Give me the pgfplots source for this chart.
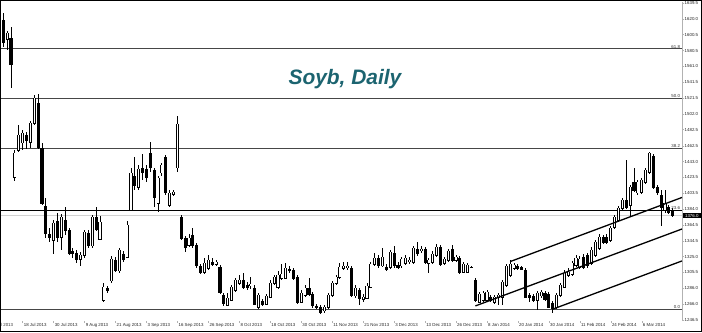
\documentclass[border=0pt]{standalone}
\usepackage{fontspec}
\setmainfont{Liberation Sans}
\usepackage{pgfplots}
\pgfplotsset{compat=1.18}
\usepackage{pgfplotstable}
\definecolor{titlecol}{RGB}{28,100,112}
\definecolor{fibcol}{RGB}{70,70,70}

\pgfplotstableread{
k o h l c
0 1618.5 1627.2 1585.0 1591.2
1 1594.9 1604.9 1581.3 1602.4
2 1596.2 1609.8 1534.2 1563.9
3 1423.8 1457.3 1418.9 1453.6
4 1457.3 1488.3 1454.8 1475.9
5 1466.0 1482.1 1457.3 1478.4
6 1475.9 1479.6 1458.5 1469.7
7 1467.2 1493.3 1459.8 1490.8
8 1490.8 1525.5 1488.3 1521.8
9 1515.6 1526.7 1458.5 1461.0
10 1459.8 1466.0 1389.1 1391.6
11 1387.9 1397.8 1348.2 1354.4
12 1353.1 1360.6 1343.2 1349.4
13 1345.7 1370.5 1328.3 1366.8
14 1369.3 1379.2 1343.2 1349.4
15 1349.4 1377.9 1333.3 1374.2
16 1370.5 1386.6 1351.9 1358.1
17 1358.1 1360.6 1327.1 1329.6
18 1332.1 1335.8 1323.4 1329.6
19 1329.6 1333.3 1317.2 1322.1
20 1322.1 1330.8 1313.5 1327.1
21 1327.1 1358.1 1323.4 1355.6
22 1354.4 1358.1 1335.8 1339.5
23 1338.3 1376.7 1335.8 1374.2
24 1374.2 1386.6 1356.9 1359.3
25 1346.9 1375.5 1345.7 1368.0
26 1271.3 1292.4 1268.8 1287.4
27 1286.2 1288.7 1280.0 1282.5
28 1294.9 1325.9 1292.4 1322.1
29 1320.9 1324.6 1306.0 1308.5
30 1307.3 1335.8 1304.8 1333.3
31 1328.3 1332.1 1318.4 1322.1
32 1324.6 1369.3 1323.4 1364.3
33 1382.9 1435.0 1381.7 1428.8
34 1425.1 1448.6 1407.7 1413.9
35 1411.4 1438.7 1407.7 1433.7
36 1435.0 1452.3 1420.1 1428.8
37 1433.7 1438.7 1417.6 1423.8
38 1453.6 1467.2 1430.0 1436.2
39 1432.5 1435.0 1386.6 1399.0
40 1391.6 1425.1 1380.4 1422.6
41 1428.8 1441.2 1425.1 1438.7
42 1448.6 1451.1 1401.5 1404.0
43 1389.1 1407.7 1386.6 1404.0
44 1402.7 1407.7 1400.3 1405.2
45 1435.0 1499.5 1430.0 1489.5
46 1374.2 1376.7 1345.7 1348.2
47 1348.2 1350.7 1330.8 1337.0
48 1339.5 1353.1 1337.0 1348.2
49 1351.9 1360.6 1335.8 1338.3
50 1339.5 1342.0 1311.0 1313.5
51 1313.5 1315.9 1303.5 1306.0
52 1306.0 1323.4 1303.5 1317.2
53 1311.0 1327.1 1308.5 1320.9
54 1318.4 1323.4 1313.5 1315.9
55 1315.9 1320.9 1313.5 1318.4
56 1312.2 1314.7 1278.7 1281.2
57 1277.5 1280.0 1263.9 1267.6
58 1265.1 1280.0 1263.9 1273.8
59 1271.3 1289.9 1270.1 1287.4
60 1283.7 1298.6 1281.2 1296.1
61 1292.4 1302.3 1289.9 1296.1
62 1296.1 1304.8 1284.9 1287.4
63 1289.9 1293.6 1283.7 1287.4
64 1288.7 1299.8 1284.9 1291.1
65 1286.2 1289.9 1265.1 1266.3
66 1262.6 1280.0 1260.1 1277.5
67 1270.1 1272.5 1263.9 1266.3
68 1266.3 1278.7 1265.1 1276.3
69 1275.0 1296.1 1273.8 1292.4
70 1292.4 1302.3 1289.9 1299.8
71 1287.4 1307.3 1284.9 1302.3
72 1298.6 1315.9 1296.1 1303.5
73 1298.6 1317.2 1297.3 1311.0
74 1309.7 1313.5 1304.8 1307.3
75 1308.5 1311.0 1296.1 1298.6
76 1299.8 1302.3 1266.3 1268.8
77 1268.8 1283.7 1267.6 1280.0
78 1277.5 1289.9 1275.0 1286.2
79 1286.2 1298.6 1276.3 1278.7
80 1278.7 1281.2 1261.4 1263.9
81 1263.9 1266.3 1260.1 1262.6
82 1262.6 1265.1 1253.9 1256.4
83 1257.7 1265.1 1255.2 1262.6
84 1262.6 1280.0 1260.1 1277.5
85 1277.5 1294.9 1275.0 1292.4
86 1292.4 1302.3 1289.9 1299.8
87 1299.8 1317.2 1297.3 1312.2
88 1311.0 1318.4 1308.5 1313.5
89 1312.2 1318.4 1308.5 1313.5
90 1311.0 1313.5 1275.0 1277.5
91 1276.3 1289.9 1273.8 1286.2
92 1283.7 1286.2 1265.1 1273.8
93 1272.5 1278.7 1268.8 1275.0
94 1273.8 1292.4 1272.5 1288.7
95 1287.4 1318.4 1286.2 1315.9
96 1315.9 1329.6 1313.5 1323.4
97 1323.4 1327.1 1311.0 1313.5
98 1313.5 1335.8 1312.2 1324.6
99 1312.2 1315.9 1307.3 1309.7
100 1312.2 1333.3 1309.7 1330.8
101 1329.6 1338.3 1311.0 1313.5
102 1314.7 1318.4 1309.7 1312.2
103 1313.5 1324.6 1311.0 1322.1
104 1317.2 1327.1 1314.7 1323.4
105 1319.7 1324.6 1315.9 1320.9
106 1318.4 1338.3 1315.9 1335.8
107 1334.5 1343.2 1325.9 1329.6
108 1333.3 1338.3 1329.6 1334.5
109 1334.5 1337.0 1315.9 1318.4
110 1317.2 1323.4 1304.8 1320.9
111 1318.4 1332.1 1315.9 1328.3
112 1327.1 1340.7 1324.6 1337.0
113 1337.0 1339.5 1313.5 1315.9
114 1317.2 1324.6 1314.7 1322.1
115 1320.9 1334.5 1318.4 1332.1
116 1334.5 1339.5 1318.4 1320.9
117 1320.9 1327.1 1318.4 1324.6
118 1323.4 1325.9 1303.5 1306.0
119 1306.0 1318.4 1304.8 1315.9
120 1306.0 1317.2 1304.8 1314.7
121 1312.2 1313.5 1311.0 1311.6
122 1296.1 1298.6 1268.8 1270.1
123 1268.8 1281.2 1267.6 1278.7
124 1271.3 1282.5 1268.8 1280.0
125 1271.3 1283.7 1270.1 1281.2
126 1275.0 1277.5 1268.8 1271.3
127 1268.8 1277.5 1266.3 1275.0
128 1275.0 1280.0 1265.1 1277.5
129 1275.0 1296.1 1265.1 1293.6
130 1289.9 1315.9 1287.4 1313.5
131 1302.3 1320.9 1299.8 1315.9
132 1311.0 1317.2 1308.5 1314.7
133 1313.5 1315.9 1308.5 1311.0
134 1311.6 1313.5 1308.5 1309.7
135 1308.5 1311.0 1273.8 1275.0
136 1277.5 1280.0 1268.8 1275.0
137 1276.3 1278.7 1268.8 1271.3
138 1271.3 1282.5 1258.9 1280.0
139 1276.3 1283.7 1273.8 1281.2
140 1280.0 1282.5 1270.1 1272.5
141 1278.7 1281.2 1261.4 1262.6
142 1267.6 1270.1 1255.2 1261.4
143 1262.6 1280.0 1260.1 1277.5
144 1277.5 1292.4 1275.0 1289.9
145 1287.4 1308.5 1286.2 1304.8
146 1302.3 1311.0 1299.8 1306.0
147 1303.5 1319.7 1301.1 1317.2
148 1314.7 1327.1 1312.2 1323.4
149 1312.2 1325.9 1309.7 1322.1
150 1324.6 1328.3 1309.7 1312.2
151 1327.1 1329.6 1311.0 1313.5
152 1317.2 1337.0 1314.7 1333.3
153 1327.1 1345.7 1324.6 1343.2
154 1335.8 1353.1 1333.3 1349.4
155 1349.4 1351.9 1340.7 1343.2
156 1349.4 1353.1 1340.7 1343.2
157 1345.7 1363.1 1343.2 1360.6
158 1361.8 1376.7 1359.3 1374.2
159 1370.5 1387.9 1368.0 1385.4
160 1385.4 1397.8 1382.9 1395.3
161 1395.3 1444.9 1384.1 1386.6
162 1389.1 1413.9 1374.2 1411.4
163 1417.6 1435.0 1405.2 1407.7
164 1404.0 1420.1 1401.5 1417.6
165 1405.2 1422.6 1402.7 1420.1
166 1417.6 1435.0 1415.1 1432.5
167 1430.0 1454.8 1427.5 1453.6
168 1449.9 1452.3 1408.9 1411.4
169 1411.4 1413.9 1401.5 1404.0
170 1401.5 1407.7 1363.1 1386.6
171 1382.9 1407.7 1379.2 1391.6
172 1386.6 1389.1 1377.9 1380.4
173 1382.9 1385.4 1374.2 1376.0
}\candles

\begin{document}
\begin{tikzpicture}[x=1bp,y=1bp]
\path[use as bounding box] (0,-11) rectangle (702,321);
\begin{axis}[
  at={(0,0)}, anchor=south west,
  width=682bp, height=319bp, scale only axis,
  xmin=-0.85, xmax=175.4, ymin=1245.3, ymax=1640.85,
  clip mode=individual,
  axis x line*=bottom, axis y line*=right,
  x axis line style={draw=none},
  y axis line style={draw=gray!60, line width=0.8bp},
  tick align=outside, major tick length=2bp,
  tick style={gray!60, line width=0.5bp},
  xtick={5,13,21,29,37,45,53,61,69,77,85,93,101,109,117,125,133,141,149,157,165},
  xticklabels={18 Jul 2013,30 Jul 2013,9 Aug 2013,21 Aug 2013,3 Sep 2013,16 Sep 2013,26 Sep 2013,8 Oct 2013,18 Oct 2013,30 Oct 2013,11 Nov 2013,21 Nov 2013,3 Dec 2013,13 Dec 2013,26 Dec 2013,8 Jan 2014,20 Jan 2014,30 Jan 2014,11 Feb 2014,24 Feb 2014,6 Mar 2014},
  xticklabel style={anchor=north west, inner sep=0.5bp, xshift=0.5bp, font=\fontsize{4.4}{5}\selectfont, text=black!85},
  ytick={1246.5,1266.0,1286.0,1305.5,1325.0,1344.5,1364.5,1384.0,1403.5,1423.5,1443.0,1462.5,1482.5,1502.0,1521.5,1541.5,1561.0,1580.5,1600.5,1620.0,1639.5},
  yticklabels={1246.5,1266.0,1286.0,1305.5,1325.0,1344.5,1364.5,1384.0,1403.5,1423.5,1443.0,1462.5,1482.5,1502.0,1521.5,1541.5,1561.0,1580.5,1600.5,1620.0,1639.5},
  yticklabel style={anchor=west, inner sep=0.5bp, font=\fontsize{4.4}{5}\selectfont, text=black!85},
]
% Fibonacci levels
\addplot[fibcol, line width=1bp, forget plot] coordinates {(-0.85,1582.6) (175.4,1582.6)};
\addplot[fibcol, line width=1bp, forget plot] coordinates {(-0.85,1520.9) (175.4,1520.9)};
\addplot[fibcol, line width=1bp, forget plot] coordinates {(-0.85,1458.8) (175.4,1458.8)};
\addplot[black, line width=1bp, forget plot] coordinates {(-0.85,1382.9) (175.4,1382.9)};
\addplot[fibcol, line width=1bp, forget plot] coordinates {(-0.85,1259.5) (175.4,1259.5)};
% current price line
\addplot[gray!35, line width=0.8bp, forget plot] coordinates {(-0.85,1376.0) (175.4,1376.0)};
% wicks
\addplot[draw=none, mark=none, forget plot,
  error bars/.cd, y dir=both, y explicit, error mark=none,
  error bar style={draw=black, line width=0.9bp}]
  table[x=k, y expr={(\thisrow{h}+\thisrow{l})/2}, y error expr={(\thisrow{h}-\thisrow{l})/2}] {\candles};
% bodies (outline / black)
\addplot[draw=none, mark=none, forget plot,
  error bars/.cd, y dir=both, y explicit, error mark=none,
  error bar style={draw=black, line width=3.1bp}]
  table[x=k, y expr={(\thisrow{o}+\thisrow{c})/2}, y error expr={abs(\thisrow{o}-\thisrow{c})/2+0.6}] {\candles};
% bodies (white inside for rising days)
\addplot[draw=none, mark=none, forget plot,
  error bars/.cd, y dir=both, y explicit, error mark=none,
  error bar style={draw=white, line width=1.3bp}]
  table[x=k, y expr={(\thisrow{o}+\thisrow{c})/2}, y error expr={max((\thisrow{c}-\thisrow{o})/2-0.3,0)}] {\candles};
% regression channel
\addplot[black, line width=1.3bp, forget plot] coordinates {(131,1319.0) (175.4,1398.5)};
\addplot[black, line width=1.3bp, forget plot] coordinates {(122,1264.0) (175.4,1359.4)};
\addplot[black, line width=1.3bp, forget plot] coordinates {(142,1260.0) (175.4,1319.8)};

\node[anchor=base, text=titlecol, font=\fontsize{21}{24}\selectfont\bfseries\itshape] at (axis cs:88.3,1539.1) {Soyb, Daily};

\coordinate (f618) at (axis cs:175.4,1582.6);
\coordinate (f500) at (axis cs:175.4,1520.9);
\coordinate (f382) at (axis cs:175.4,1458.8);
\coordinate (f236) at (axis cs:175.4,1382.9);
\coordinate (f000) at (axis cs:175.4,1259.5);
\coordinate (cur) at (axis cs:175.4,1376.0);
\coordinate (jul) at (axis cs:-3,1245.3);
\end{axis}
\begin{scope}[every node/.style={font=\fontsize{4.4}{5}\selectfont, text=black!80, inner sep=0.3bp}]
\node[anchor=south east] at ([xshift=-1.5bp,yshift=0.3bp]f618) {61.8};
\node[anchor=south east] at ([xshift=-1.5bp,yshift=0.3bp]f500) {50.0};
\node[anchor=south east] at ([xshift=-1.5bp,yshift=0.3bp]f382) {38.2};
\node[anchor=south east] at ([xshift=-1.5bp,yshift=0.3bp]f236) {23.6};
\node[anchor=south east] at ([xshift=-1.5bp,yshift=0.3bp]f000) {0.0};
\node[anchor=north west, inner sep=0.5bp] at ([xshift=0.5bp,yshift=-2bp]jul) {8 Jul 2013};
\end{scope}
\node[anchor=west, fill=black, text=white, font=\fontsize{4.4}{5}\selectfont, inner sep=0.8bp, minimum width=18bp] at ([xshift=0.6bp]cur) {1376.0};
\draw[line width=1.2bp] (0.6,-10.4) rectangle (701.4,320.4);
\end{tikzpicture}
\end{document}
